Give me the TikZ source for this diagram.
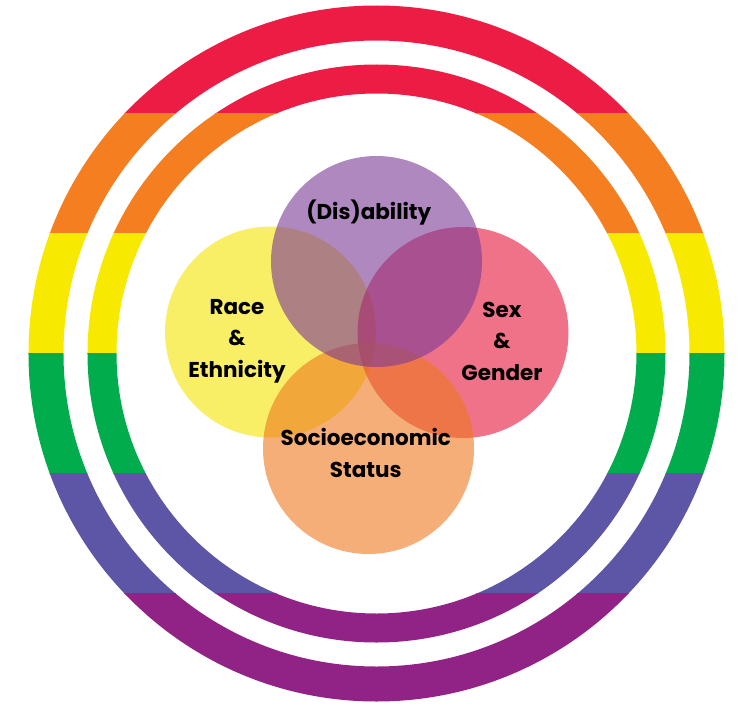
\documentclass[tikz,border=0pt]{standalone}
\usepackage{fontspec}
\newfontfamily\vennfont{Poppins}
% rainbow ring colours
\definecolor{ringred}{HTML}{EC1C45}
\definecolor{ringorange}{HTML}{F47E20}
\definecolor{ringyellow}{HTML}{F7EA00}
\definecolor{ringgreen}{HTML}{00AC4C}
\definecolor{ringblue}{HTML}{5D56A6}
\definecolor{ringpurple}{HTML}{922386}
% venn colours (drawn at 60% opacity)
\definecolor{raceyellow}{HTML}{F3E400}
\definecolor{sexpink}{HTML}{E6143A}
\definecolor{sesorange}{HTML}{EE781E}
\definecolor{dispurple}{HTML}{7B3996}
\begin{document}
\begin{tikzpicture}[x=1pt,y=1pt]
	\tikzset{venn/.style = {shape=circle, minimum size=211pt, inner sep=0pt, fill opacity=.6}}
	\tikzset{vennlabel/.style = {align=center, text=black, font=\vennfont\bfseries\fontsize{21.5}{31.5}\selectfont}}
	\useasboundingbox (-376.5,-351.5) rectangle (362.5,353.5);
	% Two rainbow rings, one band at a time
	\foreach \col [count=\i] in {ringred,ringorange,ringyellow,ringgreen,ringblue,ringpurple} {
		\begin{scope}
			\clip (-400,{480-120*\i}) rectangle (400,{360-120*\i});
			\fill[\col, even odd rule] (0,0) circle (348) circle (313) circle (289) circle (260);
		\end{scope}
	}
	% Venn circles
	\node[venn, fill=raceyellow] (race) at (-106,21.5) {};
	\node[venn, fill=sexpink] (sex) at (86.5,21) {};
	\node[venn, fill=sesorange] (ses) at (-8,-95) {};
	\node[venn, fill=dispurple] (dis) at (0,92) {};
	% Labels
	\node[vennlabel] (dislabel) at (-7.7,140.8) {(Dis)ability};
	\node[vennlabel] (racelabel) at (-139.5,12.5) {Race\\\&\\Ethnicity};
	\node[vennlabel] (sexlabel) at (125.5,12.5) {Sex\\\&\\Gender};
	\node[vennlabel] (seslabel) at (-10.7,-99.5) {Socioeconomic\\Status};
\end{tikzpicture}
\end{document}
